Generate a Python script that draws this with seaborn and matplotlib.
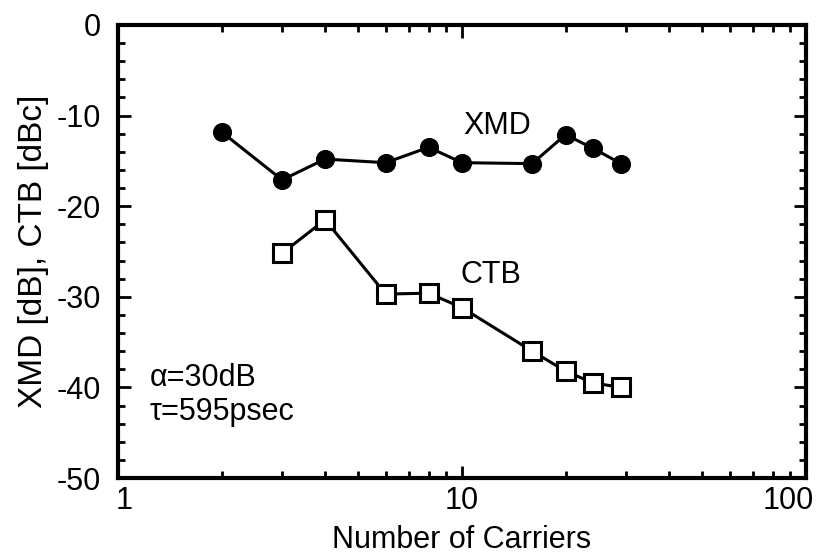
import matplotlib
matplotlib.use("Agg")
import matplotlib.pyplot as plt
import matplotlib.ticker as mticker
import matplotlib.transforms as mtransforms
import numpy as np
import pandas as pd
import seaborn as sns

# Measured distortion versus number of carriers
xmd_carriers = [2, 3, 4, 6, 8, 10, 16, 20, 24, 29]
xmd_values = [-11.8, -17.1, -14.8, -15.2, -13.5, -15.2, -15.3, -12.1, -13.6, -15.3]
ctb_carriers = [3, 4, 6, 8, 10, 16, 20, 24, 29]
ctb_values = [-25.2, -21.5, -29.7, -29.6, -31.2, -36.0, -38.2, -39.5, -40.0]

x_ticks = [1, 10, 100]
x_tick_labels = ["1", "10", "100"]
y_ticks = [0, -10, -20, -30, -40, -50]

sns.set_style("ticks")
plt.rcParams["font.family"] = ["Liberation Sans", "DejaVu Sans"]
plt.rcParams["axes.unicode_minus"] = False
plt.rcParams["text.color"] = "black"
plt.rcParams["axes.labelcolor"] = "black"

xmd_df = pd.DataFrame({"carriers": xmd_carriers, "value": xmd_values})
ctb_df = pd.DataFrame({"carriers": ctb_carriers, "value": ctb_values})

fig = plt.figure(figsize=(8.21, 5.59), dpi=100)
ax = fig.add_axes([0.1437, 0.1449, 0.8380, 0.8104])

sns.lineplot(data=xmd_df, x="carriers", y="value", ax=ax, color="black",
             linewidth=2.2, marker="o", markersize=13, markerfacecolor="black",
             markeredgecolor="black")
sns.lineplot(data=ctb_df, x="carriers", y="value", ax=ax, color="black",
             linewidth=2.2, marker="s", markersize=12.5, markerfacecolor="white",
             markeredgecolor="black", markeredgewidth=2.2)

ax.set_xscale("log")
ax.set_xlim(1, 100)
ax.set_ylim(-50, 0)
ax.set_xticks(x_ticks)
ax.set_xticklabels(x_tick_labels)
ax.xaxis.set_minor_locator(mticker.LogLocator(base=10, subs=np.arange(2, 10)))
ax.xaxis.set_minor_formatter(mticker.NullFormatter())
ax.set_yticks(y_ticks)
ax.yaxis.set_minor_locator(mticker.MultipleLocator(2))

ax.tick_params(which="both", direction="in", top=True, right=True, width=2,
               colors="black", labelcolor="black")
ax.tick_params(which="major", length=9, labelsize=22)
ax.tick_params(axis="y", which="major", pad=12)
ax.tick_params(axis="x", which="major", pad=6)
ax.tick_params(which="minor", length=5)
for s in ax.spines.values():
    s.set_linewidth(3)
    s.set_color("black")

# nudge the outer x tick labels so they sit inside the figure
xlabels = ax.get_xticklabels()
xlabels[0].set_transform(xlabels[0].get_transform()
                         + mtransforms.ScaledTranslation(6 / 100, 0, fig.dpi_scale_trans))
xlabels[-1].set_transform(xlabels[-1].get_transform()
                          + mtransforms.ScaledTranslation(-18 / 100, 0, fig.dpi_scale_trans))

ax.set_xlabel("Number of Carriers", fontsize=22, labelpad=6)
ax.set_ylabel("XMD [dB], CTB [dBc]", fontsize=24, labelpad=6)

ax.text(10.07, -11.2, "XMD", fontsize=22, ha="left", va="center")
ax.text(9.9, -27.6, "CTB", fontsize=22, ha="left", va="center")
ax.text(1.237, -39.0, "α=30dB", fontsize=22, ha="left", va="center")
ax.text(1.237, -42.7, "τ=595psec", fontsize=22, ha="left", va="center")

fig.savefig("out.png", dpi=100)
